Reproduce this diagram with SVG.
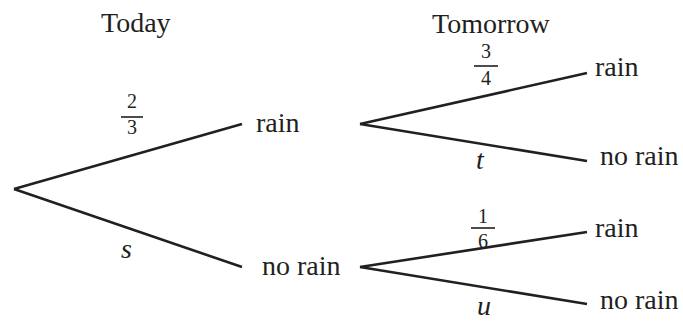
<svg xmlns="http://www.w3.org/2000/svg" width="683" height="325" viewBox="0 0 683 325" font-family="'Liberation Serif', 'Times New Roman', 'DejaVu Serif', serif">
<style>
text{font-family:'Liberation Serif','Times New Roman','DejaVu Serif',serif;fill:#231f20}
.t{font-size:28px}
.i{font-size:28px;font-style:italic}
.f{font-size:20px;text-anchor:middle}
.e{stroke:#231f20;stroke-width:2.6;fill:none;stroke-linecap:butt}
.b{stroke:#231f20;stroke-width:1.6}
</style>
<rect width="683" height="325" fill="#fff"/>
<g id="headers">
<text class="t" x="101" y="32">Today</text>
<text class="t" x="432" y="33">Tomorrow</text>
</g>
<g id="connectors">
<line class="e" x1="14" y1="189" x2="242" y2="124"/>
<line class="e" x1="14" y1="189" x2="242" y2="267"/>
<line class="e" x1="360" y1="124" x2="587" y2="73"/>
<line class="e" x1="360" y1="124" x2="587" y2="161"/>
<line class="e" x1="360" y1="267" x2="587" y2="232"/>
<line class="e" x1="360" y1="267" x2="587" y2="304"/>
</g>
<g id="labels">
<text class="f" x="132" y="108">2</text>
<line class="b" x1="121" y1="117" x2="143" y2="117"/>
<text class="f" x="132" y="134">3</text>
<text class="i" x="121" y="258">s</text>
<text class="f" x="486" y="58">3</text>
<line class="b" x1="474" y1="66" x2="498" y2="66"/>
<text class="f" x="486" y="85">4</text>
<text class="i" x="476" y="169">t</text>
<text class="f" x="483" y="223">1</text>
<line class="b" x1="471" y1="228" x2="495" y2="228"/>
<text class="f" x="483" y="248">6</text>
<text class="i" x="477" y="315">u</text>
</g>
<g id="n-today-rain"><text class="t" x="256" y="132">rain</text></g>
<g id="n-today-norain"><text class="t" x="262" y="275">no rain</text></g>
<g id="n-rr"><text class="t" x="595" y="76">rain</text></g>
<g id="n-rn"><text class="t" x="600" y="165">no rain</text></g>
<g id="n-nr"><text class="t" x="595" y="237">rain</text></g>
<g id="n-nn"><text class="t" x="600" y="309">no rain</text></g>
</svg>
